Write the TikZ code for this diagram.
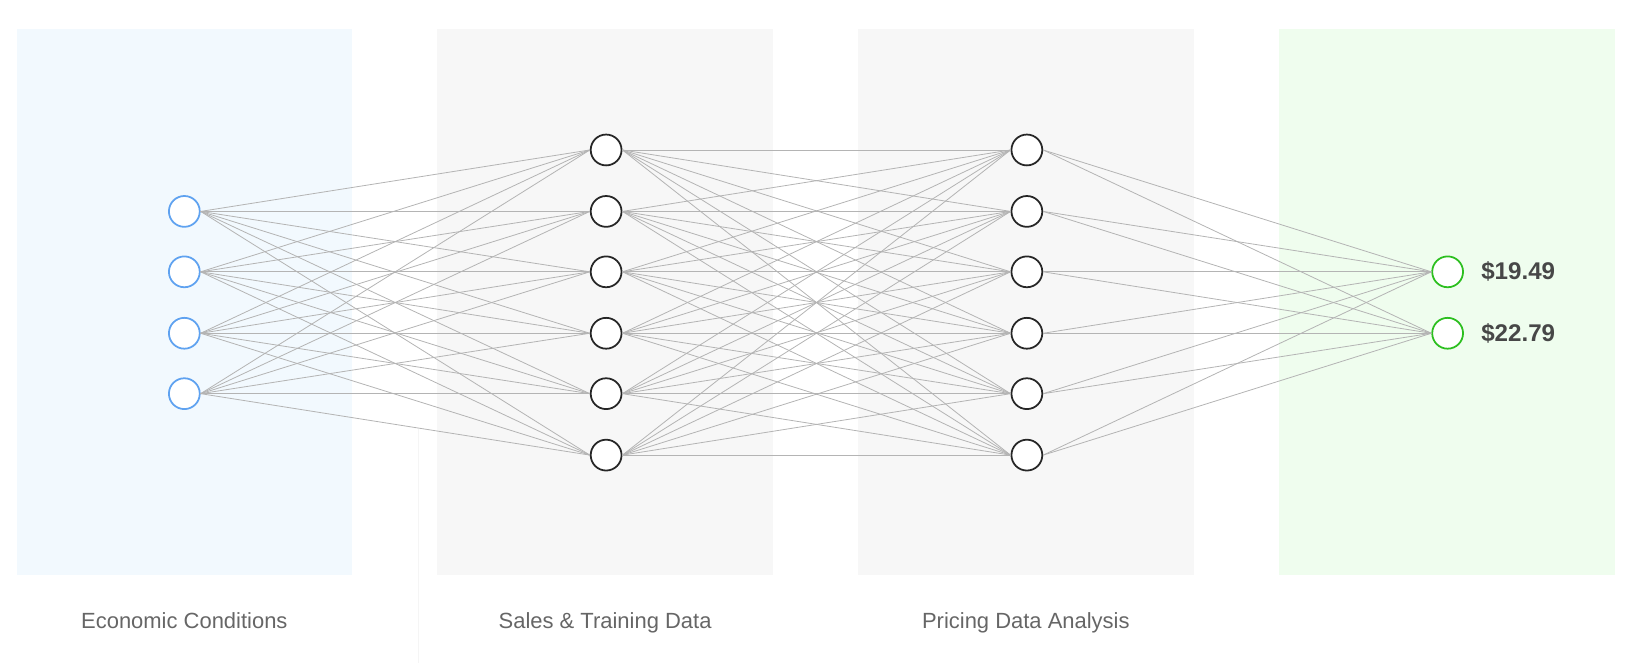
\documentclass[tikz,border=0pt]{standalone}
\usepackage{fontspec}
\setmainfont{Liberation Sans}
\usepackage{xcolor}
\usetikzlibrary{positioning}
\definecolor{inblue}{HTML}{5FA2F0}
\definecolor{outgreen}{HTML}{2CBF1F}
\definecolor{wire}{HTML}{B4B4B4}
\definecolor{labelgray}{HTML}{666666}
\definecolor{pricegray}{HTML}{474747}
\definecolor{bluebg}{HTML}{F2F9FE}
\definecolor{graybg}{HTML}{F7F7F7}
\definecolor{greenbg}{HTML}{EFFDEE}

\begin{document}
\begin{tikzpicture}[
  x=0.025cm, y=-0.025cm,
  neuron/.style={circle, draw=black!85, line width=1.2pt, fill=white, minimum size=0.74cm, inner sep=0pt},
  inneuron/.style={neuron, draw=inblue},
  outneuron/.style={neuron, draw=outgreen},
  panel/.style={fill=graybg, draw=none},
  layername/.style={font=\fontsize{15}{18}\selectfont, text=labelgray, anchor=base},
  price/.style={font=\fontsize{16.5}{20}\selectfont\bfseries, text=pricegray, anchor=west, inner sep=0pt},
  link/.style={draw=wire, line width=0.55pt}
]
  \useasboundingbox (0,0) rectangle (1568,637);

  % background columns
  \fill[bluebg] (16,28) rectangle (338,552);
  \fill[panel] (420,28) rectangle (742,552);
  \fill[panel] (824,28) rectangle (1146,552);
  \fill[greenbg] (1228,28) rectangle (1551,552);
  \draw[black!4, line width=0.5pt] (402,412) -- (402,637);

  % neurons
  \foreach \i/\y in {1/203, 2/261, 3/320, 4/378}
    \node[inneuron] (econ\i) at (177,\y) {};
  \foreach \i/\y in {1/144, 2/203, 3/261, 4/320, 5/378, 6/437} {
    \node[neuron] (sales\i) at (582,\y) {};
    \node[neuron] (pricing\i) at (986,\y) {};
  }
  \node[outneuron] (out1) at (1390,261) {};
  \node[outneuron] (out2) at (1390,320) {};

  % wiring
  \foreach \i in {1,...,4}
    \foreach \j in {1,...,6}
      \draw[link] (econ\i.east) -- (sales\j.west);
  \foreach \i in {1,...,6}
    \foreach \j in {1,...,6}
      \draw[link] (sales\i.east) -- (pricing\j.west);
  \foreach \i in {1,...,6}
    \foreach \j in {1,2}
      \draw[link] (pricing\i.east) -- (out\j.west);

  % outputs
  \node[price] (price1) at (1422,261) {\$19.49};
  \node[price] (price2) at (1422,320) {\$22.79};

  % layer names
  \node[layername] (econname) at (177,603) {Economic Conditions};
  \node[layername] (salesname) at (581,603) {Sales \& Training Data};
  \node[layername] (pricingname) at (985,603) {Pricing Data Analysis};
\end{tikzpicture}
\end{document}
